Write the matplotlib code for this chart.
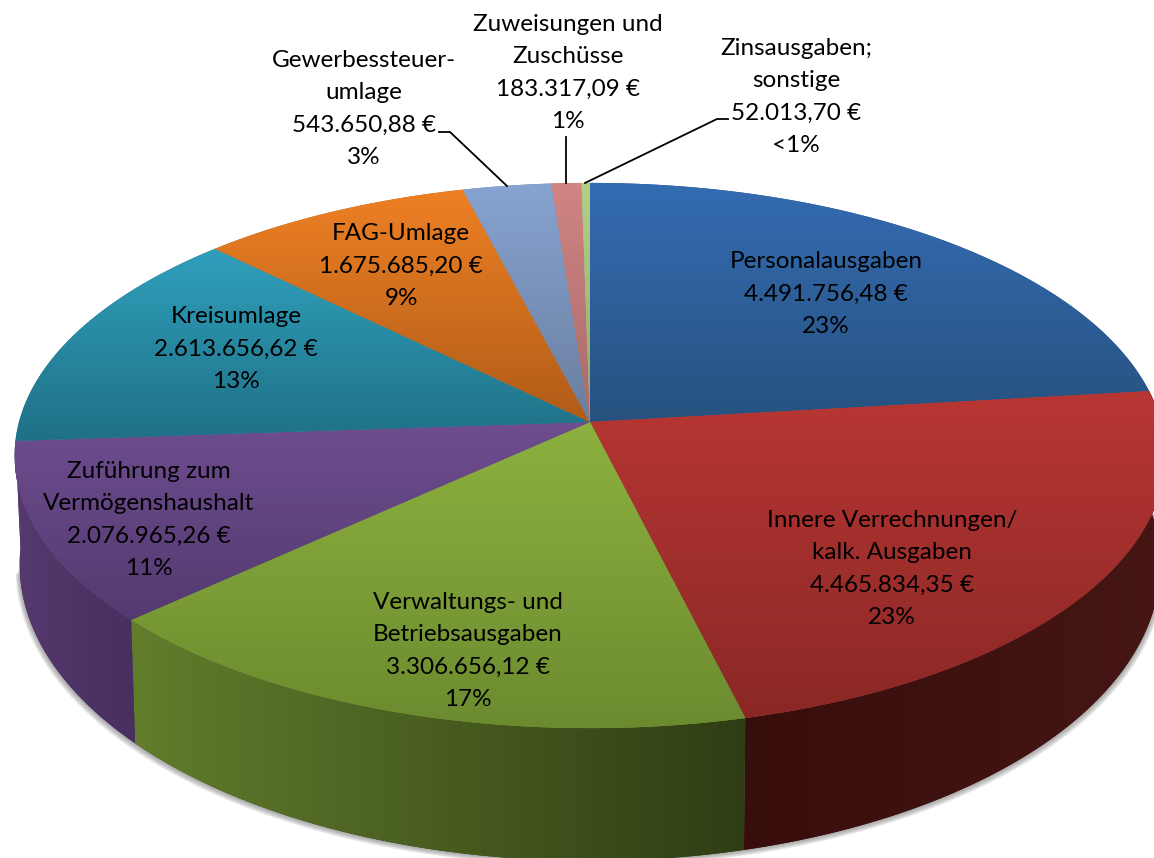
import numpy as np
import matplotlib
matplotlib.use("Agg")
import matplotlib.pyplot as plt
from matplotlib.colors import LinearSegmentedColormap
from matplotlib.patches import Polygon

# Werte im Uhrzeigersinn ab 12 Uhr
names = ["Personalausgaben", "Innere Verrechnungen/\nkalk. Ausgaben",
         "Verwaltungs- und\nBetriebsausgaben", "Zuführung zum\nVermögenshaushalt",
         "Kreisumlage", "FAG-Umlage", "Gewerbessteuer-\numlage",
         "Zuweisungen und\nZuschüsse", "Zinsausgaben;\nsonstige"]
values = [4491756.48, 4465834.35, 3306656.12, 2076965.26, 2613656.62,
          1675685.20, 543650.88, 183317.09, 52013.70]
value_labels = ["4.491.756,48 €", "4.465.834,35 €", "3.306.656,12 €", "2.076.965,26 €",
                "2.613.656,62 €", "1.675.685,20 €", "543.650,88 €", "183.317,09 €", "52.013,70 €"]
pct_labels = ["23%", "23%", "17%", "11%", "13%", "9%", "3%", "1%", "<1%"]

top_light = ["#346CB3", "#B83633", "#8DB13F", "#6F4D90", "#30A0BC", "#EE8024", "#87A3D2", "#D18584", "#B4D088"]
top_dark = ["#27527F", "#8A2826", "#6C8B2F", "#533A6F", "#1F7086", "#B05C18", "#6A7F9E", "#A86A69", "#93A96E"]
side_left = ["#27527F", "#380E0D", "#627D2C", "#56396F", "#1F7086", "#B05C18", "#6A7F9E", "#A86A69", "#93A96E"]
side_right = ["#27527F", "#451614", "#2F3D14", "#472F5E", "#1F7086", "#B05C18", "#6A7F9E", "#A86A69", "#93A96E"]

label_x = [826, 892, 468, 149, 236, 401, 364, 568, 796]
label_y = [294, 569, 651, 520, 349, 266, 109, 73, 97]

# Perspektive der Torte in Pixeln
cx, cy = 590, 422
k = 0.123
top_a, top_b = 571, 268.5
bot_a, bot_b, bot_d = 566, 292, 106
side_end = np.radians(266)


def rim(theta, a, b, d=0):
    s = 1 / (1 + k * np.cos(theta))
    return cx + a * np.sin(theta) * s, cy + d - b * np.cos(theta) * s


def gradient_fill(ax, xs, ys, c1, c2, horizontal=False, zorder=2):
    poly = Polygon(np.column_stack([xs, ys]), closed=True, fc=c2, ec="none", zorder=zorder)
    ax.add_patch(poly)
    cmap = LinearSegmentedColormap.from_list("g", [c1, c2])
    grad = np.linspace(0, 1, 256).reshape(-1, 1)
    if horizontal:
        grad = grad.T
    im = ax.imshow(grad, cmap=cmap, aspect="auto", zorder=zorder, interpolation="bilinear",
                   extent=[min(xs), max(xs), max(ys), min(ys)])
    im.set_clip_path(poly)


fig = plt.figure(figsize=(11.54, 8.58), dpi=100)
ax = fig.add_axes([0, 0, 1, 1])
ax.axis("off")

edges = np.concatenate([[0], np.cumsum(values)]) / np.sum(values) * 2 * np.pi

# Schatten
t = np.linspace(np.pi * 0.45, np.radians(262), 300)
for off in [5, 4, 3, 2, 1]:
    sx, sy = rim(t, bot_a, bot_b, bot_d)
    sx = sx + np.sign(sx - cx) * off * 0.8
    ax.fill(sx, sy + off, color="#777777", alpha=0.16, lw=0, zorder=1)

# Seitenwand, nur der sichtbare Teil vorne
for i in range(len(values)):
    a, b = edges[i], min(edges[i + 1], side_end)
    if b <= np.pi / 2 or a >= side_end:
        continue
    t = np.linspace(a, b, 200)
    x1, y1 = rim(t, top_a, top_b)
    x2, y2 = rim(t, bot_a, bot_b, bot_d)
    xs = np.concatenate([x1, x2[::-1]])
    ys = np.concatenate([y1, y2[::-1]])
    gradient_fill(ax, xs, ys, side_left[i], side_right[i], horizontal=True)

# Deckfläche
for i in range(len(values)):
    t = np.linspace(edges[i], edges[i + 1], 200)
    x1, y1 = rim(t, top_a, top_b)
    xs = np.concatenate([[cx], x1])
    ys = np.concatenate([[cy], y1])
    gradient_fill(ax, xs, ys, top_light[i], top_dark[i], zorder=3)

# Beschriftung
for i in range(len(values)):
    txt = names[i] + "\n" + value_labels[i] + "\n" + pct_labels[i]
    ax.text(label_x[i], label_y[i], txt, ha="center", va="center", family="Lato",
            fontsize=17.5, linespacing=1.66, color="black", zorder=5)

# Führungslinien
ax.plot([439, 450, 507], [132, 132, 186], color="black", lw=1.3, zorder=4)
ax.plot([566, 566], [137, 183], color="black", lw=1.3, zorder=4)
ax.plot([585, 717, 728], [183, 119, 119], color="black", lw=1.3, zorder=4)

ax.set_xlim(0, 1154)
ax.set_ylim(858, 0)
fig.savefig("out.png", dpi=100, facecolor="white")
